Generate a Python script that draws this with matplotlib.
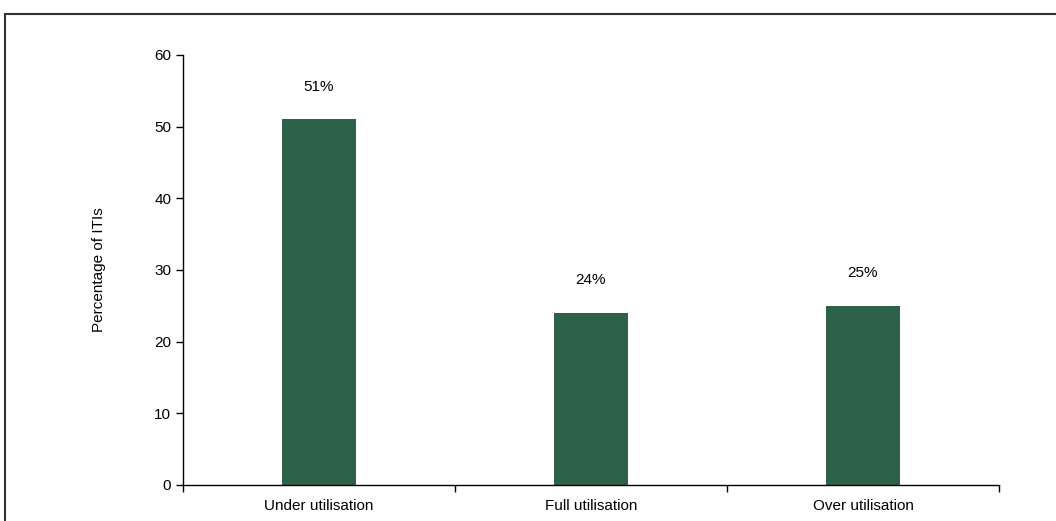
import matplotlib.pyplot as plt
from matplotlib.patches import Rectangle

# Data
categories = ['Under utilisation', 'Full utilisation', 'Over utilisation']
percentages = [51, 24, 25]
bar_labels = ['51%', '24%', '25%']

plt.rcParams['font.family'] = ['Liberation Sans', 'DejaVu Sans']

fig = plt.figure(figsize=(10.56, 5.21), dpi=100)
ax = fig.add_axes([183 / 1056, 1 - 485 / 521, (999 - 183) / 1056, (485 - 55) / 521])

# Outer frame (runs off the right and bottom edges)
fig.patches.append(Rectangle((5 / 1056, -0.2), 1.2, 1.2 - 14 / 521,
                             transform=fig.transFigure, fill=False,
                             edgecolor='#333333', linewidth=1.5))

x = list(range(len(categories)))
ax.bar(x, percentages, width=0.27, color='#2E614A')

for xi, v, lab in zip(x, percentages, bar_labels):
    ax.text(xi, v + 4.6, lab, ha='center', va='center', fontsize=11)

ax.set_xlim(-0.5, 2.5)
ax.set_ylim(0, 60)
ax.set_yticks(range(0, 61, 10))
ax.tick_params(axis='y', labelsize=11, length=5, direction='out', width=1)

# Category boundary ticks on x, labels at centres
ax.set_xticks([-0.5, 0.5, 1.5, 2.5])
ax.set_xticklabels([])
ax.set_xticks(x, minor=True)
ax.set_xticklabels(categories, minor=True, fontsize=11)
ax.tick_params(axis='x', which='major', length=5, direction='out', width=1)
ax.tick_params(axis='x', which='minor', length=0, pad=10)

ax.spines['top'].set_visible(False)
ax.spines['right'].set_visible(False)
ax.spines['left'].set_linewidth(1)
ax.spines['bottom'].set_linewidth(1)

ax.set_ylabel('Percentage of ITIs', fontsize=11, labelpad=35)

fig.savefig('out.png', dpi=100)
